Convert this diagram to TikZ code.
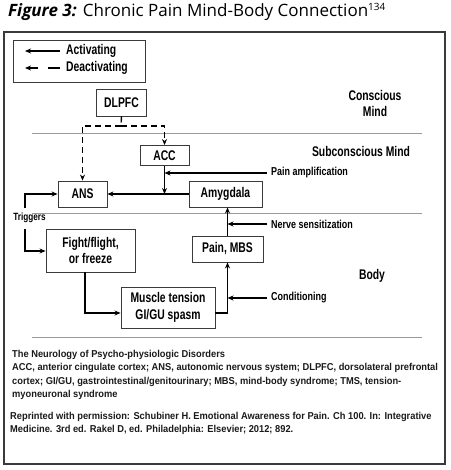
\documentclass[tikz,border=0pt]{standalone}
\usepackage{fontspec}
\setmainfont{Liberation Sans}
\newfontfamily\cnd[FakeStretch=0.74]{Liberation Sans}
\newfontfamily\cnl[FakeStretch=0.78]{Liberation Sans}
\newfontfamily\cndf[FakeStretch=0.93]{Liberation Sans}
\newfontfamily\ttl{Open Sans}
\usetikzlibrary{arrows.meta}
\definecolor{boxc}{HTML}{3A3A3A}
\definecolor{sepc}{HTML}{9A9A9A}
\definecolor{notec}{HTML}{1A1A1A}
\tikzset{
  box/.style={draw=boxc, line width=0.9pt, fill=white, inner sep=0pt, font=\cnd\bfseries\fontsize{14}{15}\selectfont, align=center},
  lbl/.style={inner sep=0pt, font=\cnl\bfseries\fontsize{11.5}{13}\selectfont},
  zone/.style={inner sep=0pt, font=\cnd\bfseries\fontsize{14}{16}\selectfont, align=center},
  arr/.style={line width=1.4pt, -{Stealth[length=6pt,width=5pt]}},
  dsh/.style={arr, dash pattern=on 6pt off 4pt},
  sep/.style={draw=sepc, line width=1pt},
  note/.style={inner sep=0pt, anchor=base west, text=notec, font=\cndf\bfseries\fontsize{10}{12}\selectfont}
}
\begin{document}
\begin{tikzpicture}[x=1pt,y=-1pt]
\useasboundingbox (0,0) rectangle (450,470);
% title
\node[anchor=base west, inner sep=0pt] (title) at (8,17) {\fontsize{17}{19}\selectfont{\ttl\bfseries\itshape Figure 3:} {\ttl Chronic Pain Mind-Body Connection\textsuperscript{\fontsize{10}{10}\selectfont 134}}};
% frame
\draw[draw=boxc, line width=1.2pt] (4,32) rectangle (445,464);
% legend
\draw[draw=boxc, line width=0.9pt] (13,40) rectangle (145,82);
\coordinate (la1) at (60,51); \coordinate (la2) at (25,51);
\coordinate (ld1) at (60,68); \coordinate (ld2) at (25,68);
\draw[arr] (la1) -- (la2);
\draw[arr, dash pattern=on 12pt off 10pt on 20pt off 0pt] (ld1) -- (ld2);
\node[zone, anchor=west] (act) at (66,51) {Activating};
\node[zone, anchor=west] (deact) at (66,68) {Deactivating};
% separators
\coordinate (s1a) at (32,134); \coordinate (s1b) at (422,134);
\coordinate (s2a) at (32,213); \coordinate (s2b) at (422,213);
\coordinate (s3a) at (32,337); \coordinate (s3b) at (422,337);
\draw[sep] (s1a) -- (s1b);
\draw[sep] (s2a) -- (s2b);
\draw[sep] (s3a) -- (s3b);
% zone labels
\node[zone] (conscious) at (375,103) {Conscious\\Mind};
\node[zone] (subc) at (361,151) {Subconscious Mind};
\node[zone] (body) at (372,276) {Body};
% boxes
\node[box, minimum width=50pt, minimum height=27pt] (dlpfc) at (121.5,102.5) {DLPFC};
\node[box, minimum width=49pt, minimum height=20pt] (acc) at (164.5,155.5) {ACC};
\node[box, minimum width=49pt, minimum height=26pt] (ans) at (82.5,194) {ANS};
\node[box, minimum width=73pt, minimum height=26pt] (amy) at (225.5,194) {Amygdala};
\node[box, minimum width=89pt, minimum height=43pt, font=\cnd\bfseries\fontsize{14}{15.5}\selectfont] (fight) at (90.5,250.5) {Fight/flight,\\or freeze};
\node[box, minimum width=71pt, minimum height=26pt] (pain) at (227.5,249) {Pain, MBS};
\node[box, minimum width=94pt, minimum height=41pt, font=\cnd\bfseries\fontsize{14}{17}\selectfont] (muscle) at (168,307.5) {Muscle tension\\GI/GU spasm};
% side labels
\node[lbl, anchor=west] (painamp) at (271,173) {Pain amplification};
\node[lbl, anchor=west] (nerve) at (271,224) {Nerve sensitization};
\node[lbl, anchor=west] (cond) at (271,298) {Conditioning};
\node[lbl, font=\cnl\bfseries\fontsize{10.5}{12}\selectfont] (trig) at (29.5,218) {Triggers};
% dashed connectors
\coordinate (dj) at (121,126);
\draw[line width=1.4pt, dash pattern=on 6pt off 4pt] (dlpfc.south) -- (dj);
\draw[dsh] (dj) -| (ans.north);
\draw[dsh] (dj) -| (acc.north);
% solid connectors
\coordinate (accj) at (acc.south |- amy.west);
\draw[arr] (acc.south) -- (accj);
\draw[arr] (amy.west) -- (ans.east);
\draw[arr] ([xshift=-4pt]painamp.west) -- (acc.south |- painamp.west);
\draw[arr] (pain.north) -- (pain.north |- amy.south);
\draw[arr] ([xshift=-4pt]nerve.west) -- (pain.north |- nerve.west);
\draw[arr] ([xshift=-4pt]cond.west) -- (pain.south |- cond.west);
\coordinate (t1) at (25,208);
\coordinate (t2) at (25,229);
\draw[arr] (t1) |- (ans.west);
\draw[arr] (t2) |- (fight.west |- 0,251);
\draw[arr] (fight.south -| 85,0) |- (muscle.west |- 0,313);
\draw[arr] (muscle.east |- 0,313) -| (pain.south);
% notes
\node[note] (n1) at (12,357) {The Neurology of Psycho-physiologic Disorders};
\node[note] (n2) at (12,370.5) {ACC, anterior cingulate cortex; ANS, autonomic nervous system; DLPFC, dorsolateral prefrontal};
\node[note] (n3) at (12,384) {cortex; GI/GU, gastrointestinal/genitourinary; MBS, mind-body syndrome; TMS, tension-};
\node[note] (n4) at (12,397.5) {myoneuronal syndrome};
\node[note] (n5) at (10,419) {Reprinted with permission: Schubiner H. Emotional Awareness for Pain. Ch 100. In: Integrative};
\node[note] (n6) at (10,432) {Medicine. 3rd ed. Rakel D, ed. Philadelphia: Elsevier; 2012; 892.};
\end{tikzpicture}
\end{document}
